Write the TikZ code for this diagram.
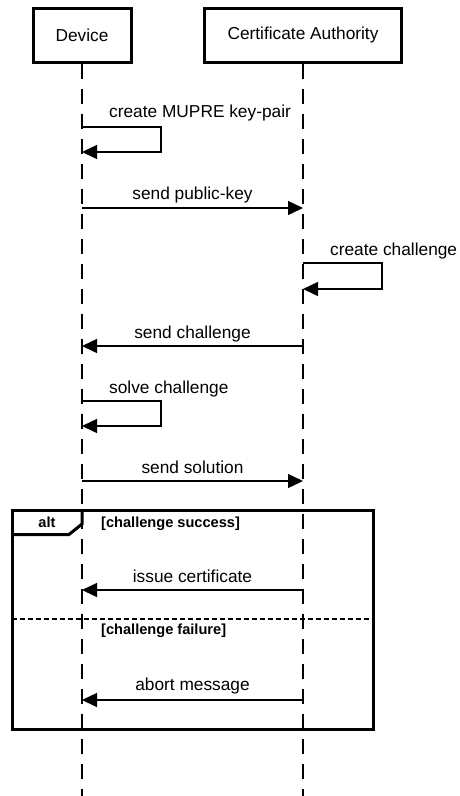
\documentclass[tikz,border=0pt]{standalone}
\usepackage{fontspec}
\setmainfont{Liberation Sans}
\usetikzlibrary{arrows.meta}

\tikzset{
  actor/.style={draw, line width=3pt, minimum height=54pt, inner sep=0pt,
    font=\fontsize{17.3}{20}\selectfont},
  lifeline/.style={line width=1.4pt, dash pattern=on 15pt off 10pt},
  msg/.style={line width=1.4pt, -{Triangle[length=15pt,width=14pt]}},
  loopmsg/.style={line width=1.4pt, -{Triangle[length=15pt,width=14pt]}},
  msglabel/.style={anchor=base, inner sep=0pt, font=\fontsize{17.3}{20}\selectfont},
  looplabel/.style={anchor=base west, inner sep=0pt, font=\fontsize{17.3}{20}\selectfont},
  guard/.style={anchor=base west, inner sep=0pt, font=\fontsize{14.6}{17}\selectfont\bfseries},
  frame/.style={line width=3pt},
  divider/.style={line width=2.6pt, dash pattern=on 5pt off 3pt}
}

\begin{document}
\begin{tikzpicture}[x=1pt,y=-1pt]
\useasboundingbox (0,0) rectangle (459,796);

% participants
\node[actor, minimum width=98pt] (dev) at (82,35) {Device};
\node[actor, minimum width=197pt] (ca) at (303,35) {Certificate Authority};

% lifeline ends
\coordinate (devEnd) at (82,796);
\coordinate (caEnd) at (303,796);
\draw[lifeline] (dev.south) -- (devEnd);
\draw[lifeline] (ca.south) -- (caEnd);

% create MUPRE key-pair (self message)
\coordinate (d1a) at (82,127);
\coordinate (d1b) at (82,152);
\draw[loopmsg] (d1a) -- (161,127) -- (161,152) -- (d1b);
\node[looplabel] (l1) at (109,117) {create MUPRE key-pair};

% send public-key
\coordinate (d2) at (82,208);
\coordinate (c2) at (303,208);
\draw[msg] (d2) -- (c2);
\node[msglabel] (l2) at (192.5,199.5) {send public-key};

% create challenge (self message)
\coordinate (c3a) at (303,263);
\coordinate (c3b) at (303,289);
\draw[loopmsg] (c3a) -- (382,263) -- (382,289) -- (c3b);
\node[looplabel] (l3) at (330,255) {create challenge};

% send challenge
\coordinate (c4) at (303,346);
\coordinate (d4) at (82,346);
\draw[msg] (c4) -- (d4);
\node[msglabel] (l4) at (192.5,338) {send challenge};

% solve challenge (self message)
\coordinate (d5a) at (82,401);
\coordinate (d5b) at (82,426);
\draw[loopmsg] (d5a) -- (161,401) -- (161,426) -- (d5b);
\node[looplabel] (l5) at (109,393) {solve challenge};

% send solution
\coordinate (d6) at (82,481);
\coordinate (c6) at (303,481);
\draw[msg] (d6) -- (c6);
\node[msglabel] (l6) at (192.5,473) {send solution};

% alt fragment
\draw[frame] (12,510) rectangle (373,729);
\draw[frame] (12,534.5) -- (69,534.5) -- (82,524) -- (82,510);
\node[anchor=base, inner sep=0pt, font=\fontsize{14.6}{17}\selectfont\bfseries] (alt) at (47,527) {alt};
\node[guard] (g1) at (101,527) {[challenge success]};

% issue certificate
\coordinate (c7) at (303,590);
\coordinate (d7) at (82,590);
\draw[msg] (c7) -- (d7);
\node[msglabel] (l7) at (192.5,582.5) {issue certificate};

% operand separator
\draw[divider] (12,619) -- (373,619);
\node[guard] (g2) at (101,634) {[challenge failure]};

% abort message
\coordinate (c8) at (303,700);
\coordinate (d8) at (82,700);
\draw[msg] (c8) -- (d8);
\node[msglabel] (l8) at (192.5,690) {abort message};
\end{tikzpicture}
\end{document}
